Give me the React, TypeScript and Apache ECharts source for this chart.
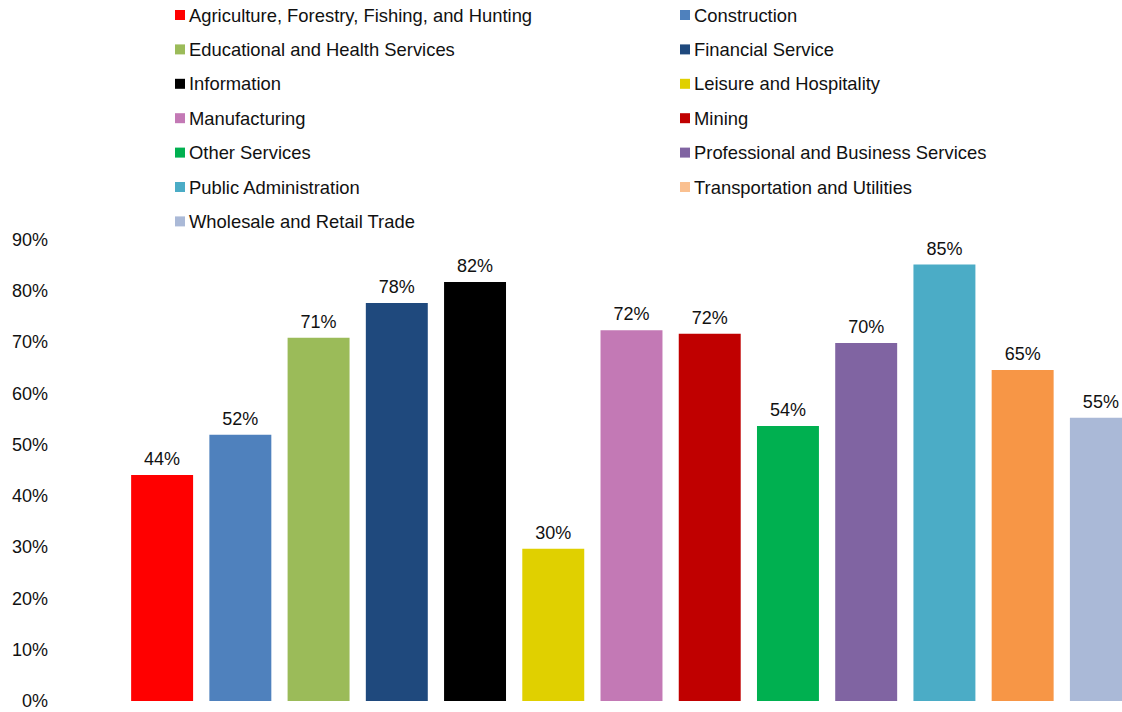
import React, { useEffect, useRef } from "react";
import * as echarts from "echarts";

const categories = [
  "Agriculture, Forestry, Fishing, and Hunting",
  "Construction",
  "Educational and Health Services",
  "Financial Service",
  "Information",
  "Leisure and Hospitality",
  "Manufacturing",
  "Mining",
  "Other Services",
  "Professional and Business Services",
  "Public Administration",
  "Transportation and Utilities",
  "Wholesale and Retail Trade",
];

const values = [44.1, 52, 70.9, 77.7, 81.8, 29.7, 72.4, 71.7, 53.7, 69.9, 85.2, 64.6, 55.3];

const barColors = [
  "#FF0000", "#4F81BD", "#9BBB59", "#1F497D", "#000000", "#E0D000", "#C379B5",
  "#C00000", "#00B050", "#8064A2", "#4BACC6", "#F79646", "#AAB9D7",
];

const legendColors = [
  "#FF0000", "#4F81BD", "#9BBB59", "#1F497D", "#000000", "#E0D000", "#C379B5",
  "#C00000", "#00B050", "#8064A2", "#4BACC6", "#FAC090", "#AAB9D7",
];

const yTicks = [0, 10, 20, 30, 40, 50, 60, 70, 80, 90];

export default function App() {
  const ref = useRef<HTMLDivElement>(null);
  useEffect(() => {
    if (!ref.current) return;
    const chart = echarts.init(ref.current, undefined, { renderer: "svg" });
    const font = "'Liberation Sans', Arial, sans-serif";
    const legendItem = (i: number) => ({
      name: categories[i],
      itemStyle: { color: legendColors[i] },
    });
    const leftIdx = categories.map((_, i) => i).filter((i) => i % 2 === 0);
    const rightIdx = categories.map((_, i) => i).filter((i) => i % 2 === 1);
    const legendBase = {
      orient: "vertical" as const,
      top: 5,
      padding: 0,
      itemWidth: 10,
      itemHeight: 10,
      itemGap: 14.4,
      icon: "rect",
      selectedMode: false,
      textStyle: { fontFamily: font, fontSize: 18.4, color: "#111", lineHeight: 20, padding: [0, 0, 0, -1] },
    };
    chart.setOption({
      animation: false,
      legend: [
        { ...legendBase, left: 175, data: leftIdx.map(legendItem) },
        { ...legendBase, left: 680, data: rightIdx.map(legendItem) },
      ],
      grid: { left: 123, right: 0, top: 240, bottom: 11, containLabel: false },
      xAxis: {
        type: "category",
        data: categories,
        axisLine: { show: false },
        axisTick: { show: false },
        axisLabel: { show: false },
      },
      yAxis: {
        type: "value",
        min: yTicks[0],
        max: yTicks[yTicks.length - 1],
        interval: 10,
        splitLine: { show: false },
        axisLine: { show: false },
        axisTick: { show: false },
        axisLabel: {
          margin: 75,
          fontFamily: font,
          fontSize: 18,
          color: "#111",
          formatter: (v: number) => `${v}%`,
        },
      },
      series: categories.map((name, i) => ({
        name,
        type: "bar",
        stack: "all",
        barCategoryGap: "20.8%",
        itemStyle: { color: barColors[i] },
        label: {
          show: true,
          position: "top",
          distance: 7,
          fontFamily: font,
          fontSize: 18,
          color: "#111",
          formatter: (p: any) => `${Math.round(p.value)}%`,
        },
        data: categories.map((_, j) => (j === i ? values[i] : "-")),
      })),
    });
    return () => chart.dispose();
  }, []);
  return (
    <div
      ref={ref}
      style={{ position: "fixed", left: 0, top: 0, width: 1140, height: 712, background: "#fff" }}
    />
  );
}
